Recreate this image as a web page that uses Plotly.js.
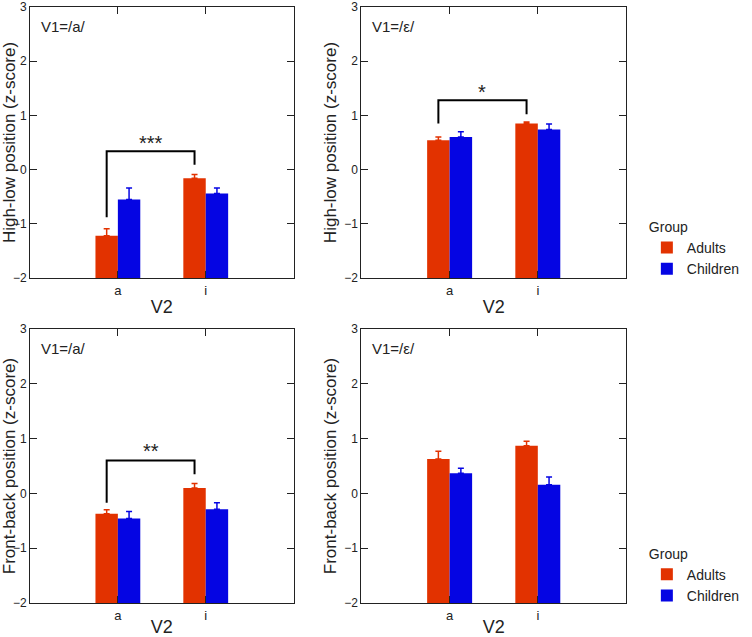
<!DOCTYPE html>
<html><head><meta charset="utf-8">
<script src="https://cdn.plot.ly/plotly-3.0.1.min.js"></script>
<style>html,body{margin:0;padding:0;background:#fff}#chart{width:752px;height:637px}</style>
</head><body><div id="chart"></div>
<script>
// ---- data ----
const categories = ['a', 'i'];
const groups = ['Adults', 'Children'];
const panelLabels = ['V1=/a/', 'V1=/ε/', 'V1=/a/', 'V1=/ε/'];
const yTitles = ['High-low position (z-score)', 'High-low position (z-score)', 'Front-back position (z-score)', 'Front-back position (z-score)'];
// panel order: top-left, top-right, bottom-left, bottom-right
const adultsMean   = [[-1.22, -0.16], [0.54, 0.85], [-0.37, 0.10], [0.63, 0.87]];
const adultsErr    = [[0.13, 0.07],   [0.06, 0.03], [0.07, 0.08],  [0.14, 0.08]];
const childrenMean = [[-0.55, -0.44], [0.60, 0.74], [-0.46, -0.29], [0.37, 0.16]];
const childrenErr  = [[0.21, 0.10],   [0.10, 0.10], [0.13, 0.12],  [0.09, 0.14]];
// significance brackets: left leg bottom, bracket top, right leg bottom, star y, label
const bracketLeft  = [-0.88, 0.85, -0.17, null];
const bracketTop   = [0.34, 1.28, 0.60, null];
const bracketRight = [0.09, 1.02, 0.35, null];
const starY        = [0.50, 1.43, 0.77, null];
const starText     = ['***', '*', '**', null];

const colors = {Adults: '#e23200', Children: '#0505e3'};
const yBase = -2;
const bargap = 0.49;
const font = 'Liberation Sans, Arial, sans-serif';

const traces = [];
const annotations = [];
const layout = {
  width: 752, height: 637,
  margin: {l: 30, r: 107, t: 7, b: 34},
  paper_bgcolor: '#fff', plot_bgcolor: '#fff',
  font: {family: font, color: '#222', size: 12},
  barmode: 'group', bargap: bargap, bargroupgap: 0,
  showlegend: true,
  legend: {x: 1.035, xanchor: 'left', y: 0.653, yanchor: 'top',
    title: {text: 'Group', font: {size: 14, family: font, color: '#222'}},
    font: {size: 14, family: font, color: '#222'}, tracegroupgap: 0, itemwidth: 30},
  legend2: {x: 1.035, xanchor: 'left', y: 0.105, yanchor: 'top',
    title: {text: 'Group', font: {size: 14, family: font, color: '#222'}},
    font: {size: 14, family: font, color: '#222'}, tracegroupgap: 0, itemwidth: 30},
  annotations: annotations
};

const xDomains = [[0, 0.4423], [0.5561, 1]];
const yDomains = [[0.5453, 1], [0, 0.4597]];
const barW = (1 - bargap) / 2;

for (let p = 0; p < 4; p++) {
  const ax = p === 0 ? '' : String(p + 1);
  const xa = 'x' + ax, ya = 'y' + ax;
  const col = p % 2, row = Math.floor(p / 2);
  const idx = [0, 1];
  const means = [adultsMean[p], childrenMean[p]];
  const errs = [adultsErr[p], childrenErr[p]];
  groups.forEach((g, gi) => {
    const tr = {
      type: 'bar', name: g, x: idx, y: means[gi].map(v => v - yBase), base: yBase,
      xaxis: xa, yaxis: ya,
      marker: {color: colors[g], line: {width: 0}},
      error_y: {type: 'data', symmetric: false, array: errs[gi], arrayminus: [0, 0],
        color: colors[g], thickness: 1.5, width: 3},
      legendgroup: g, showlegend: (p === 1 || p === 3), hoverinfo: 'skip'
    };
    if (p === 3) tr.legend = 'legend2';
    traces.push(tr);
  });
  layout['xaxis' + ax] = {
    domain: xDomains[col], anchor: ya, range: [-1, 2],
    tickmode: 'array', tickvals: idx, ticktext: categories,
    ticks: 'inside', ticklen: 7, tickcolor: '#222', mirror: 'ticks',
    showline: true, linecolor: '#222', linewidth: 1, showgrid: false, zeroline: false,
    tickfont: {size: 13, family: font, color: '#222'},
    title: {text: 'V2', font: {size: 18, family: font, color: '#222'}, standoff: 3},
    automargin: false, ticklabeloverflow: 'allow'
  };
  layout['yaxis' + ax] = {
    domain: yDomains[row], anchor: xa, range: [-2, 3], dtick: 1,
    ticks: 'inside', ticklen: 7, tickcolor: '#222', mirror: 'ticks',
    showline: true, linecolor: '#222', linewidth: 1, showgrid: false, zeroline: false,
    tickfont: {size: 12, family: font, color: '#222'},
    title: {text: yTitles[p], font: {size: 17, family: font, color: '#222'}, standoff: 3},
    automargin: false, ticklabeloverflow: 'allow'
  };
  annotations.push({xref: xa + ' domain', yref: ya + ' domain', x: 0.033, y: 0.968,
    xanchor: 'left', yanchor: 'top', showarrow: false, text: panelLabels[p],
    font: {size: 15, family: font, color: '#222'}});
  if (starText[p]) {
    const x0 = 0 - barW / 2, x1 = 1 - barW / 2;
    traces.push({type: 'scatter', mode: 'lines', xaxis: xa, yaxis: ya,
      x: [x0, x0, x1, x1], y: [bracketLeft[p], bracketTop[p], bracketTop[p], bracketRight[p]],
      line: {color: '#000', width: 2}, showlegend: false, hoverinfo: 'skip'});
    annotations.push({xref: xa, yref: ya, x: (x0 + x1) / 2, y: starY[p], showarrow: false,
      text: starText[p], font: {size: 20, family: font, color: '#222'}});
  }
}

Plotly.newPlot('chart', traces, layout, {staticPlot: true, displayModeBar: false});
</script></body></html>
